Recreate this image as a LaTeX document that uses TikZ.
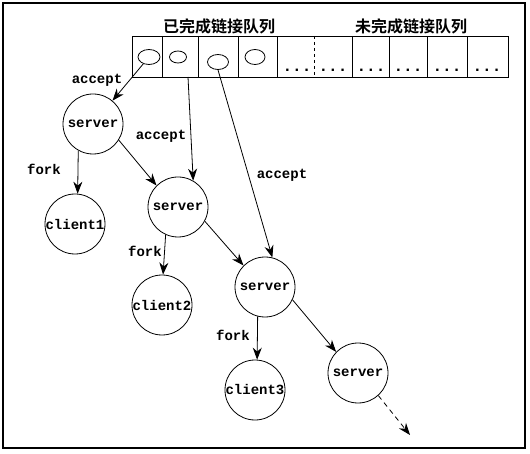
\documentclass[tikz,border=0pt]{standalone}
\usepackage{fontspec}
\newfontfamily\cjkfont{Noto Sans CJK SC}[BoldFont={Noto Sans CJK SC Bold}]
\newfontfamily\monofont{Liberation Mono}
\usetikzlibrary{arrows.meta,shapes.geometric}
\begin{document}
\begin{tikzpicture}[x=1pt,y=-1pt,
  proc/.style={draw,circle,minimum size=60pt,inner sep=0pt,line width=0.8pt,font=\monofont\bfseries\fontsize{14}{14}\selectfont},
  lbl/.style={font=\monofont\bfseries\fontsize{14}{14}\selectfont,inner sep=0pt},
  dotsl/.style={font=\monofont\bfseries\fontsize{16}{16}\selectfont,inner sep=0pt,anchor=base},
  oval/.style={draw,ellipse,inner sep=0pt,line width=0.8pt},
  title/.style={font=\cjkfont\bfseries\fontsize{16}{16}\selectfont,inner sep=0pt},
  arr/.style={line width=0.8pt,-{Stealth[length=12pt,width=9pt]}},
  cell/.style={line width=0.8pt}]
\useasboundingbox (0,0) rectangle (530,454);
\draw[line width=1.2pt] (3,3) rectangle (525,448);
% titles
\node[title] (t1) at (219,26) {已完成链接队列};
\node[title] (t2) at (411,26) {未完成链接队列};
% queue box
\draw[cell] (132,36) rectangle (508,77);
\foreach \x in {162,198,238,277,352,389,427,467}{\draw[cell] (\x,36) -- (\x,77);}
\draw[cell,dashed] (314,36) -- (314,77);
\node[oval,minimum width=22pt,minimum height=15pt] (o1) at (149,57) {};
\node[oval,minimum width=17pt,minimum height=12pt] (o2) at (178,57) {};
\node[oval,minimum width=21pt,minimum height=15pt] (o3) at (218,62) {};
\node[oval,minimum width=20pt,minimum height=15pt] (o4) at (255,57) {};
\foreach \x/\n in {297/d1,333/d2,371/d3,408/d4,447/d5,487/d6}{\node[dotsl] (\n) at (\x,72) {...};}
\coordinate (q2) at (188,77);
\coordinate (e4) at (410,435);
% process circles
\node[proc] (s1) at (93,124) {server};
\node[proc] (c1) at (75,224) {client1};
\node[proc] (s2) at (178,207) {server};
\node[proc] (c2) at (162,305) {client2};
\node[proc] (s3) at (265,287) {server};
\node[proc] (c3) at (255,390) {client3};
\node[proc] (s4) at (358,373) {server};
% arrows
\draw[arr] (o1) -- (s1);
\draw[arr] (q2) -- (s2.60);
\draw[arr] (o3.south) -- (s3.76);
\draw[arr] (s1.241) -- (c1.85);
\draw[arr] (s1.-32) -- (s2.135);
\draw[arr] (s2.246) -- (c2.88);
\draw[arr] (s2.-28) -- (s3.135);
\draw[arr] (s3.256) -- (c3.86);
\draw[arr] (s3.-25) -- (s4.136);
\draw[arr,dash pattern=on 5pt off 4pt] (s4.-48) -- (e4);
% labels
\node[lbl] (a1) at (97,80) {accept};
\node[lbl] (a2) at (161,136) {accept};
\node[lbl] (a3) at (282,175) {accept};
\node[lbl] (f1) at (44,169) {fork};
\node[lbl] (f2) at (145,251) {fork};
\node[lbl] (f3) at (233,335) {fork};
\end{tikzpicture}
\end{document}
